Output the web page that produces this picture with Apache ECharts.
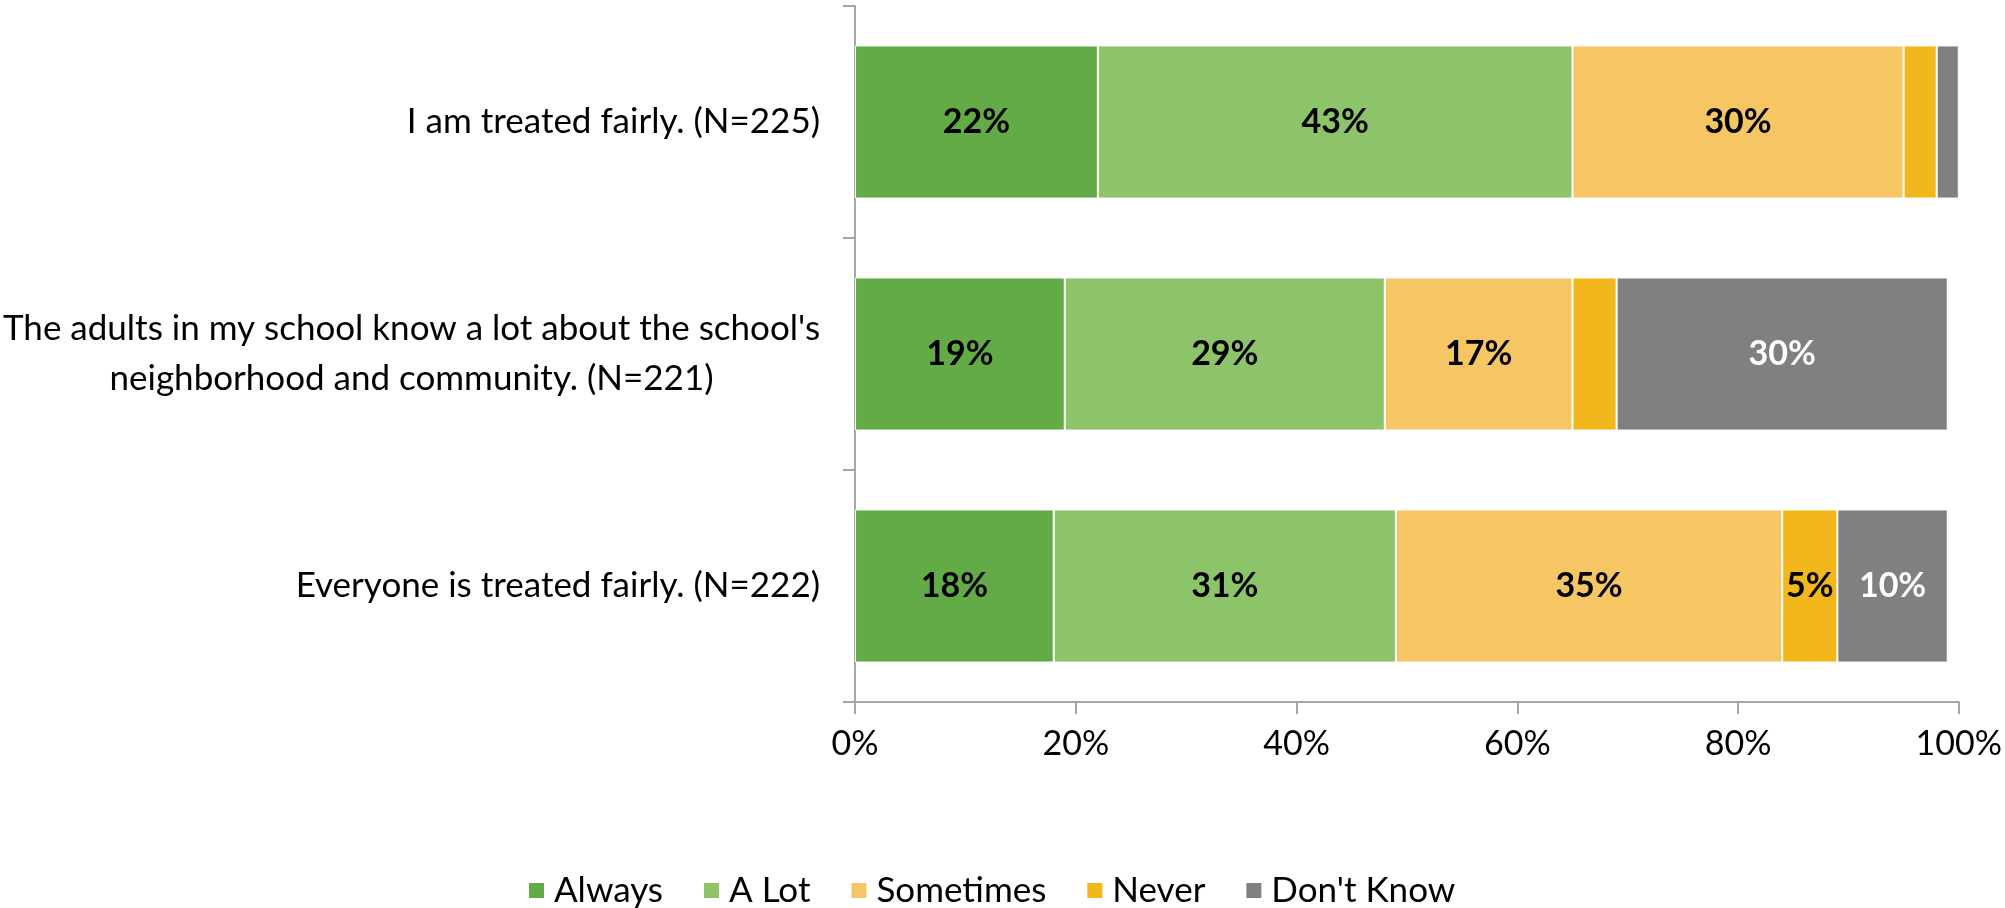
<!DOCTYPE html>
<html>
<head>
<meta charset="utf-8">
<script src="https://cdn.jsdelivr.net/npm/echarts@6/dist/echarts.min.js"></script>
<style>
  html, body { margin: 0; padding: 0; background: #ffffff; }
  #chart { width: 2005px; height: 908px; }
</style>
</head>
<body>
<div id="chart"></div>
<script>
// ---- data ----
const categories = [
  'I am treated fairly. (N=225)',
  "The adults in my school know a lot about the school's\nneighborhood and community. (N=221)",
  'Everyone is treated fairly. (N=222)'
];
const seriesNames = ['Always', 'A Lot', 'Sometimes', 'Never', "Don't Know"];
const always    = [22, 19, 18];
const aLot      = [43, 29, 31];
const sometimes = [30, 17, 35];
const never     = [3, 4, 5];
const dontKnow  = [2, 30, 10];
const xTickMin = 0, xTickMax = 100, xTickStep = 20;

// ---- styles ----
const FONT = 'Lato, "Open Sans", sans-serif';
const FS = 35;
const FS_TICK = 34;
const colors = ['#63ab47', '#8dc469', '#f6c564', '#f2b71d', '#808080'];
const labelColors = ['#000000', '#000000', '#000000', '#000000', '#ffffff'];
const seriesData = [always, aLot, sometimes, never, dontKnow];

// measure widest line of multi-line category labels to center lines inside the block
const cv = document.createElement('canvas').getContext('2d');
cv.font = FS + 'px ' + FONT;
let blockW = 0;
categories.forEach(c => {
  const lines = c.split('\n');
  if (lines.length > 1) lines.forEach(l => { blockW = Math.max(blockW, cv.measureText(l).width); });
});

const chart = echarts.init(document.getElementById('chart'), null, { renderer: 'canvas' });

const option = {
  animation: false,
  color: colors,
  grid: { left: 853, right: 42, top: 6, bottom: 206, containLabel: false },
  legend: {
    data: seriesNames,
    left: 522,
    top: 868,
    icon: 'rect',
    itemWidth: 17,
    itemHeight: 17,
    itemGap: 39,
    textStyle: { fontFamily: FONT, fontSize: FS, color: '#000', padding: [0, 0, 0, 4] }
  },
  xAxis: {
    type: 'value',
    min: xTickMin,
    max: xTickMax,
    interval: xTickStep,
    axisLine: { show: true, lineStyle: { color: '#a6a6a6', width: 2 } },
    axisTick: { show: true, length: 12, lineStyle: { color: '#a6a6a6', width: 2 } },
    splitLine: { show: false },
    axisLabel: {
      formatter: '{value}%',
      fontFamily: FONT, fontSize: FS_TICK, color: '#000', margin: 25
    }
  },
  yAxis: {
    type: 'category',
    inverse: true,
    data: categories,
    axisLine: { show: true, lineStyle: { color: '#a6a6a6', width: 2 } },
    axisTick: { show: true, length: 12, alignWithLabel: false, lineStyle: { color: '#a6a6a6', width: 2 } },
    axisLabel: {
      fontFamily: FONT, fontSize: FS, color: '#000', margin: 35, lineHeight: 50,
      formatter: function (v) {
        const lines = v.split('\n');
        if (lines.length === 1) return v;
        return lines.map(l => '{c|' + l + '}').join('\n');
      },
      rich: {
        c: { width: blockW, align: 'center', fontFamily: FONT, fontSize: FS, color: '#000', lineHeight: 50 }
      }
    }
  },
  series: seriesNames.map((name, i) => ({
    name: name,
    type: 'bar',
    stack: 'total',
    barWidth: '66%',
    data: seriesData[i],
    itemStyle: { color: colors[i], borderColor: '#ffffff', borderWidth: 1 },
    label: {
      show: true,
      position: 'inside',
      fontFamily: FONT,
      fontSize: FS_TICK,
      fontWeight: 'bold',
      color: labelColors[i],
      formatter: p => (p.value >= 5 ? p.value + '%' : '')
    }
  }))
};

chart.setOption(option);
</script>
</body>
</html>
